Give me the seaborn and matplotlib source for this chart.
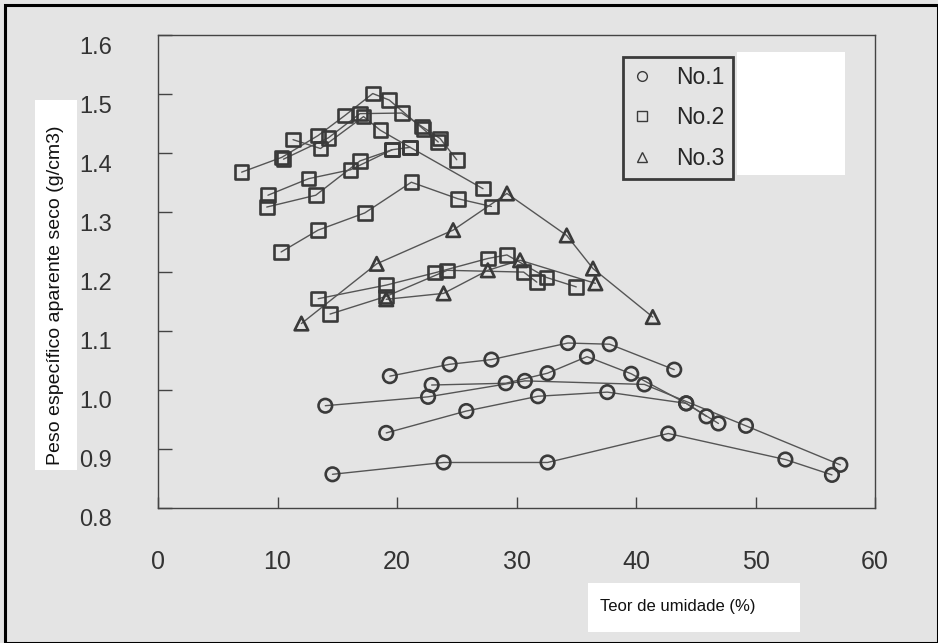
import matplotlib
matplotlib.use("Agg")
import matplotlib.pyplot as plt
import matplotlib.transforms as mtransforms
from matplotlib.lines import Line2D
from matplotlib.patches import Rectangle
import seaborn as sns

# ---- compaction curves: moisture content (%) vs dry density (g/cm3) ----
# No.1 (circles)
n1_a_x = [19.4, 24.4, 27.9, 34.3, 37.8, 43.2]
n1_a_y = [1.023, 1.043, 1.051, 1.079, 1.077, 1.034]
n1_b_x = [22.9, 29.1, 32.6, 35.9, 39.6, 44.2, 45.9]
n1_b_y = [1.008, 1.011, 1.028, 1.056, 1.027, 0.977, 0.955]
n1_c_x = [14.0, 22.6, 30.7, 40.7, 49.2, 57.1]
n1_c_y = [0.973, 0.988, 1.015, 1.009, 0.939, 0.873]
n1_d_x = [19.1, 25.8, 31.8, 37.6, 44.2, 46.9]
n1_d_y = [0.927, 0.964, 0.989, 0.996, 0.977, 0.943]
n1_e_x = [14.6, 23.9, 32.6, 42.7, 52.5, 56.4]
n1_e_y = [0.857, 0.877, 0.877, 0.926, 0.882, 0.856]

# No.2 (squares)
n2_a_x = [7.0, 10.35, 13.4, 15.65, 17.97, 19.35, 22.2, 23.45]
n2_a_y = [1.368, 1.393, 1.430, 1.464, 1.501, 1.490, 1.441, 1.419]
n2_b_x = [10.5, 14.25, 16.9, 20.4, 22.1, 23.6, 25.0]
n2_b_y = [1.390, 1.426, 1.467, 1.468, 1.445, 1.425, 1.389]
n2_c_x = [11.3, 13.6, 17.2, 18.6, 21.1, 27.2]
n2_c_y = [1.423, 1.408, 1.462, 1.439, 1.410, 1.340]
n2_d_x = [9.2, 12.6, 16.1, 19.6, 21.1]
n2_d_y = [1.329, 1.357, 1.372, 1.406, 1.410]
n2_e_x = [9.1, 13.2, 16.9, 19.6]
n2_e_y = [1.309, 1.329, 1.387, 1.406]
n2_f_x = [10.3, 13.4, 17.3, 21.2, 25.1, 27.9]
n2_f_y = [1.233, 1.270, 1.299, 1.351, 1.323, 1.310]
n2_g_x = [13.4, 19.1, 23.2, 27.6, 29.2, 32.5, 35.0]
n2_g_y = [1.154, 1.177, 1.198, 1.222, 1.228, 1.190, 1.174]
n2_h_x = [14.4, 19.1, 24.2, 30.6, 31.7]
n2_h_y = [1.128, 1.158, 1.202, 1.199, 1.182]

# No.3 (triangles)
n3_a_x = [12.0, 18.3, 24.7, 29.2, 34.2, 36.4, 41.4]
n3_a_y = [1.112, 1.213, 1.270, 1.332, 1.261, 1.205, 1.123]
n3_b_x = [19.1, 23.9, 27.6, 30.3, 36.6]
n3_b_y = [1.153, 1.163, 1.202, 1.219, 1.180]

series_names = ["No.1", "No.2", "No.3"]
series_markers = ["o", "s", "^"]
series_curves = [
    [(n1_a_x, n1_a_y), (n1_b_x, n1_b_y), (n1_c_x, n1_c_y), (n1_d_x, n1_d_y), (n1_e_x, n1_e_y)],
    [(n2_a_x, n2_a_y), (n2_b_x, n2_b_y), (n2_c_x, n2_c_y), (n2_d_x, n2_d_y),
     (n2_e_x, n2_e_y), (n2_f_x, n2_f_y), (n2_g_x, n2_g_y), (n2_h_x, n2_h_y)],
    [(n3_a_x, n3_a_y), (n3_b_x, n3_b_y)],
]

x_ticks = [0, 10, 20, 30, 40, 50, 60]
y_ticks = [0.8, 0.9, 1.0, 1.1, 1.2, 1.3, 1.4, 1.5, 1.6]
y_tick_labels = ["0.8", "0.9", "1.0", "1.1", "1.2", "1.3", "1.4", "1.5", "1.6"]
x_label = "Teor de umidade (%)"
y_label = "Peso específico aparente seco (g/cm3)"

# ---- styling ----
sns.set_theme(style="white")
plt.rcParams["font.family"] = ["Liberation Sans", "DejaVu Sans"]

W, H = 938, 643
fig = plt.figure(figsize=(W / 100, H / 100), dpi=100)
fig.patch.set_facecolor("#e4e4e4")

def px_rect(x0, y0, x1, y1):
    """Figure-fraction rectangle from pixel corners (origin top-left)."""
    return [x0 / W, 1 - y1 / H, (x1 - x0) / W, (y1 - y0) / H]

# white label panels
for (x0, y0, x1, y1) in [(737, 52, 845, 175), (35, 100, 77, 470), (588, 583, 800, 632)]:
    fig.patches.append(Rectangle((x0 / W, 1 - y1 / H), (x1 - x0) / W, (y1 - y0) / H,
                                 transform=fig.transFigure, facecolor="white",
                                 edgecolor="none", zorder=-5))

ax = fig.add_axes(px_rect(158, 35, 875, 508))
ax.set_facecolor("none")

ink = "#3a3a3a"
line_col = "#555555"

for name, mk, curves in zip(series_names, series_markers, series_curves):
    for cx, cy in curves:
        sns.lineplot(x=cx, y=cy, ax=ax, sort=False, estimator=None,
                     color=line_col, linewidth=1.0, zorder=2)
        sns.scatterplot(x=cx, y=cy, ax=ax, marker=mk, s=95,
                        facecolors="none", edgecolors=ink, linewidth=1.9,
                        zorder=3)

ax.set_xlim(0, 60)
ax.set_ylim(0.8, 1.6)
ax.set_xticks(x_ticks)
ax.set_yticks(y_ticks)
ax.set_xticklabels([str(t) for t in x_ticks], fontsize=18, color="#333333")
ax.set_yticklabels(y_tick_labels, fontsize=17, color="#333333")
ax.tick_params(axis="x", direction="in", length=8, width=1, color="#444444",
               pad=30, bottom=True, top=False)
ax.tick_params(axis="y", direction="in", length=10, width=1, color="#444444",
               pad=33, left=True, right=False)
# y tick labels sit slightly below their ticks
shift = mtransforms.ScaledTranslation(0, -10 / 100, fig.dpi_scale_trans)
for lab in ax.get_yticklabels():
    lab.set_transform(lab.get_transform() + shift)

for sp in ax.spines.values():
    sp.set_color("#444444")
    sp.set_linewidth(1.0)
ax.set_xlabel("")
ax.set_ylabel("")

# legend
handles = [Line2D([], [], linestyle="none", marker=m, markersize=7,
                  markerfacecolor="none", markeredgecolor=ink, markeredgewidth=1.0)
           for m in series_markers]
leg = ax.legend(handles, series_names, loc="upper left",
                bbox_to_anchor=((623 - 158) / (875 - 158), 1 - (57 - 35) / (508 - 35)),
                frameon=True, fancybox=False, handletextpad=1.0,
                borderpad=0.4, labelspacing=0.75, handlelength=0.9,
                borderaxespad=0, prop={"size": 16.5})
leg.get_frame().set_edgecolor("#111111")
leg.get_frame().set_linewidth(2.0)
leg.get_frame().set_facecolor("none")
leg.set_zorder(5)

fig.text(56 / W, 1 - 295 / H, y_label, rotation=90, ha="center", va="center",
         fontsize=14, color="#111111")
fig.text(600 / W, 1 - 607 / H, x_label, ha="left", va="center",
         fontsize=12, color="#111111")

# outer frame
fig.patches.append(Rectangle((5 / W, 0), 1 - 5 / W, 1 - 5 / H,
                             transform=fig.transFigure, facecolor="none",
                             edgecolor="black", linewidth=2.2, zorder=10))

fig.savefig("out.png", dpi=100, facecolor=fig.get_facecolor())
